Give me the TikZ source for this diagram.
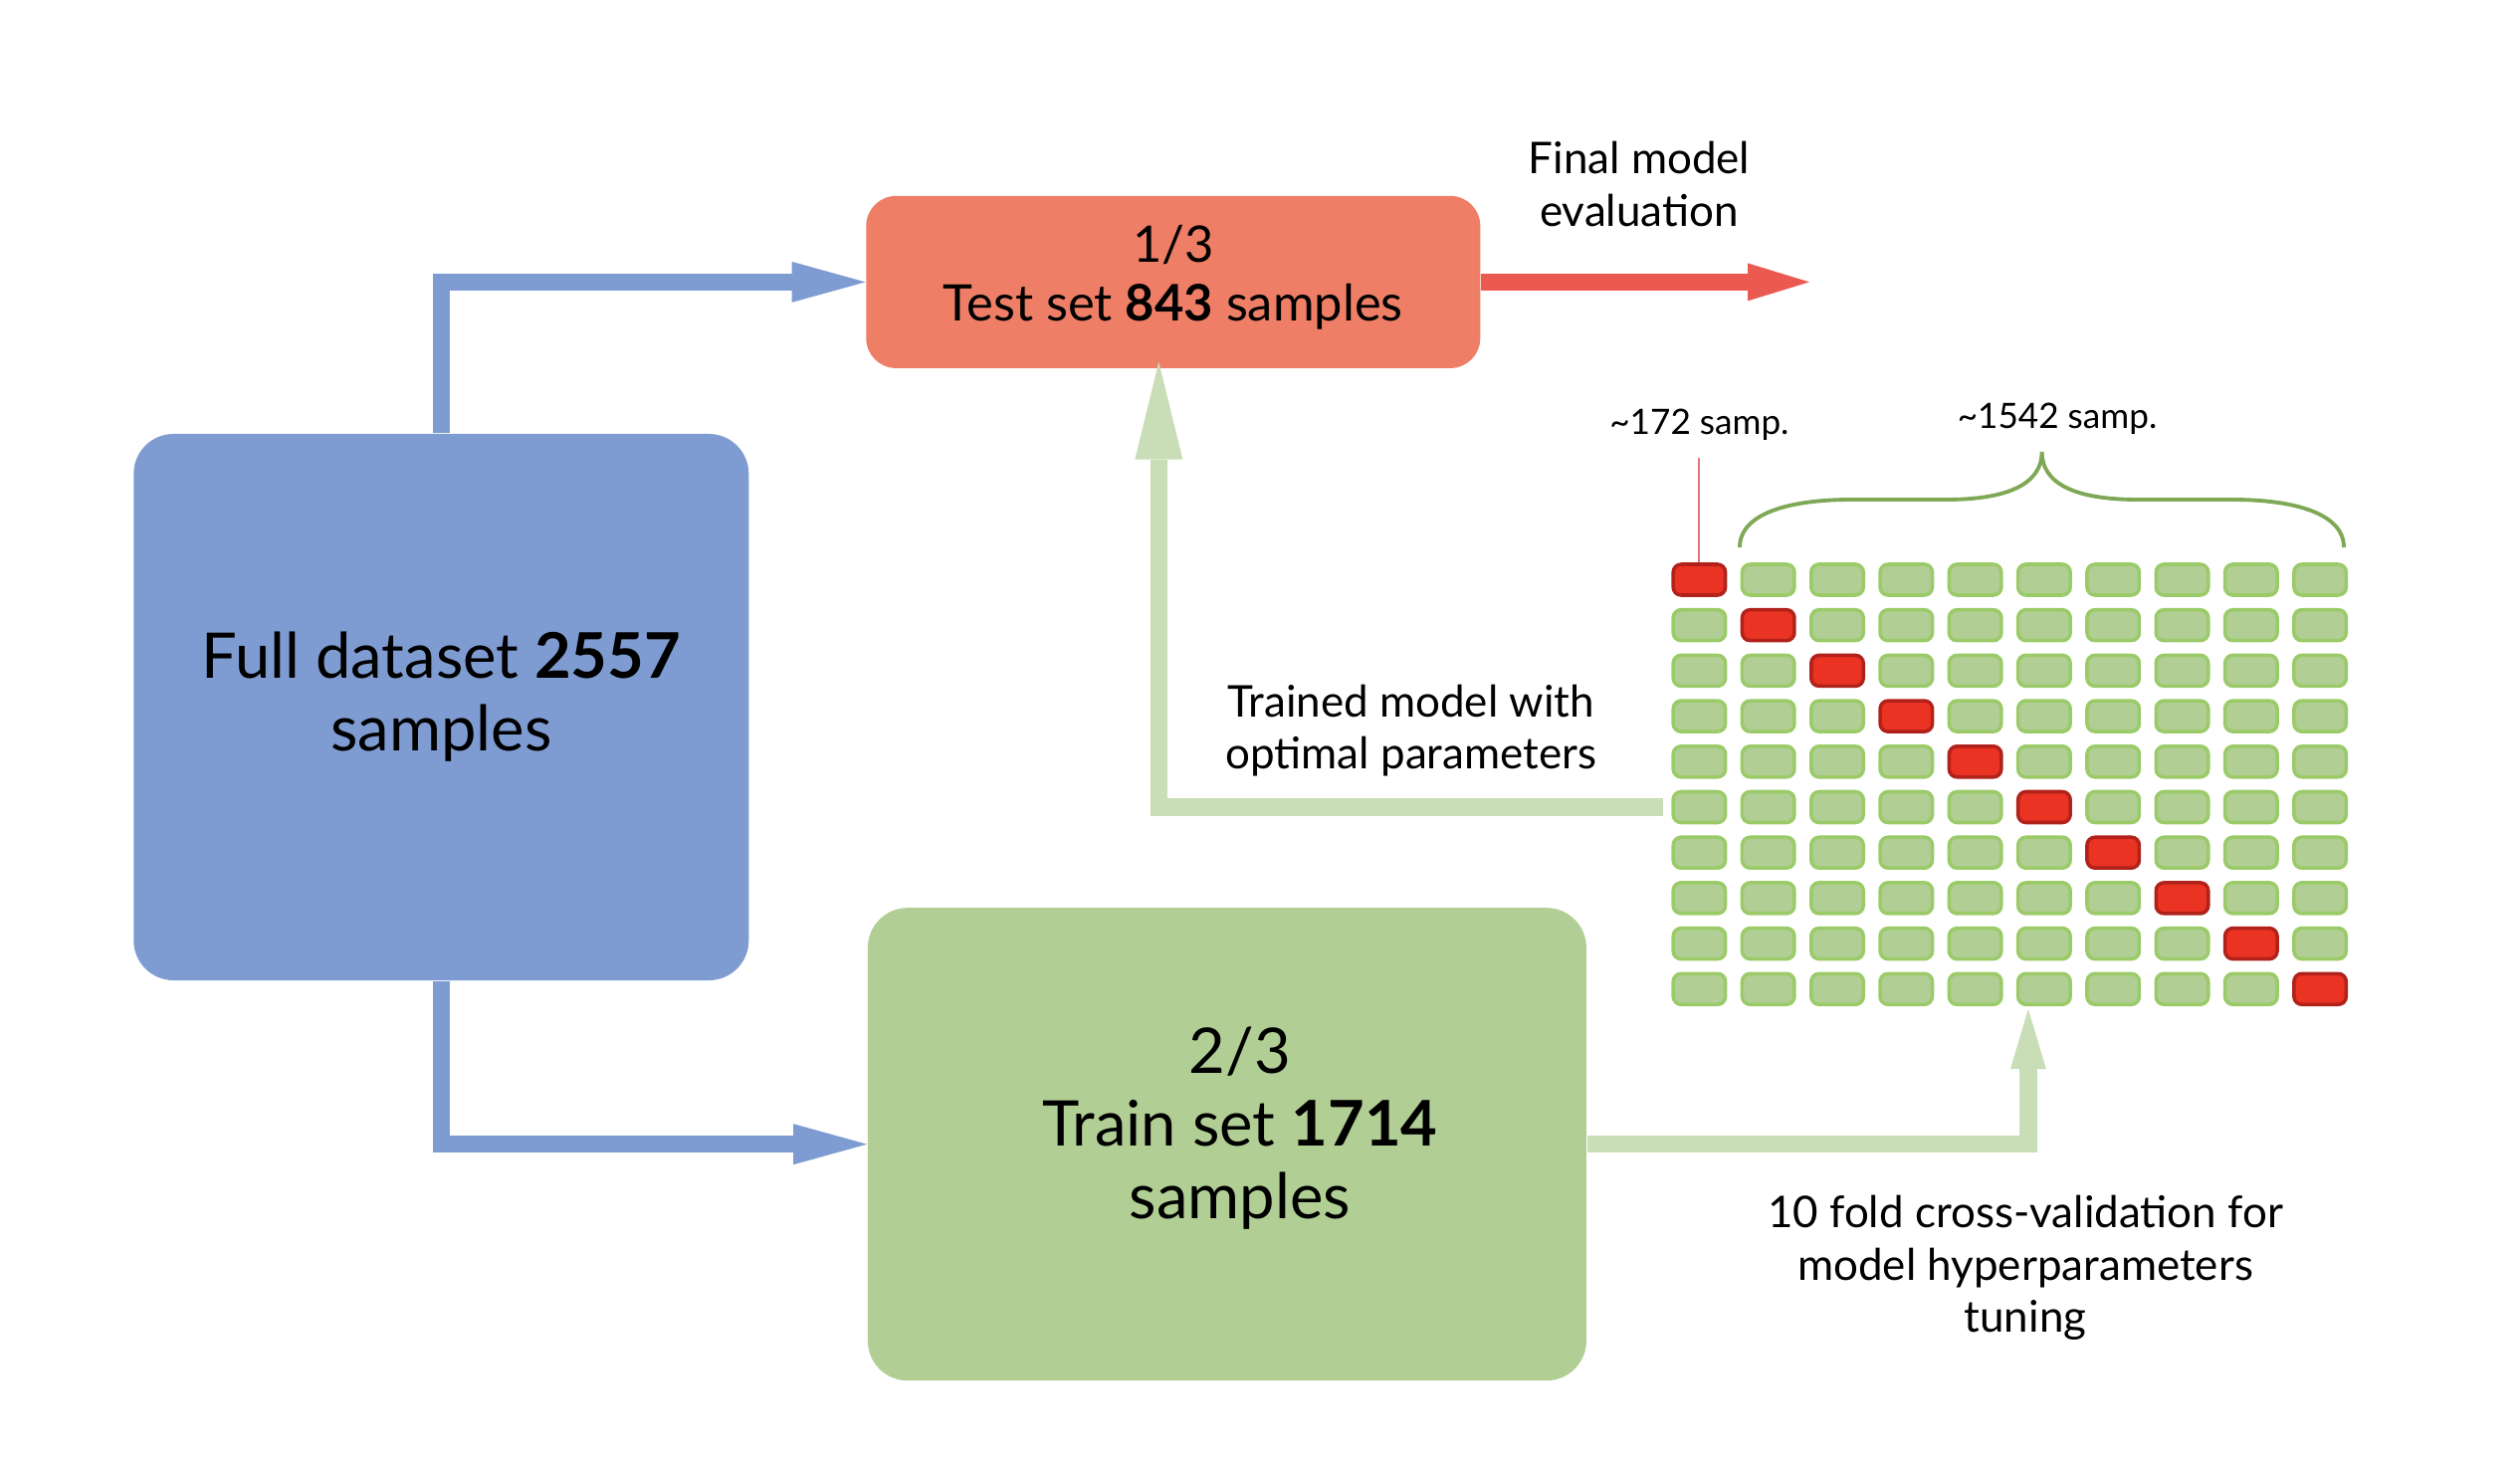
\documentclass[tikz,border=0pt]{standalone}
\usepackage{fontspec}
\setmainfont{Lato}
\usetikzlibrary{arrows.meta}
\definecolor{fullblue}{HTML}{7F9CD2}
\definecolor{testred}{HTML}{EF7E66}
\definecolor{traingreen}{HTML}{B1CE94}
\definecolor{arrowred}{HTML}{EB5A50}
\definecolor{arrowgreen}{HTML}{C9DEB6}
\definecolor{cellfill}{HTML}{B1CE94}
\definecolor{cellline}{HTML}{9BCB69}
\definecolor{hotfill}{HTML}{EA3323}
\definecolor{hotline}{HTML}{B1221B}
\definecolor{bracegreen}{HTML}{7FA856}
\definecolor{pinred}{HTML}{E57373}
\tikzset{
  block/.style={fill=#1,rounded corners=4mm,inner sep=0pt},
  big/.style={align=center,font=\fontsize{18}{20.8}\selectfont},
  flow/.style n args={3}{draw=#1,line width=1.75mm,-{Triangle[length=#2,width=#3,line width=0pt]}},
  note/.style={align=center,font=\fontsize{12.5}{15}\selectfont},
  tiny/.style={font=\fontsize{10}{11}\selectfont},
  fold/.style={draw=cellline,fill=cellfill,line width=1pt,rounded corners=0.8mm,minimum width=5.25mm,minimum height=3.1mm,inner sep=0pt},
  hot/.style={fold,draw=hotline,fill=hotfill},
  brace/.style={draw=bracegreen,line width=1.1pt},
  pin/.style={draw=pinred,line width=0.6pt}
}
\begin{document}
\begin{tikzpicture}
  \useasboundingbox (0,0) rectangle (25.32,-14.70);

  \node[block=fullblue,minimum width=6.18cm,minimum height=5.49cm] (full) at (4.433,-7.105) {};
  \node[block=testred,rounded corners=3mm,minimum width=6.17cm,minimum height=1.73cm] (test) at (11.788,-2.834) {};
  \node[block=traingreen,minimum width=7.22cm,minimum height=4.75cm] (train) at (12.329,-11.497) {};
  \node[big] (fulltext) at ([yshift=1mm]full.center) {Full dataset \textbf{2557}\\samples};
  \node[align=center,font=\fontsize{14.4}{16.8}\selectfont] (testtext) at ([yshift=0.5mm]test.center) {1/3\\Test set \textbf{843} samples};
  \node[big] (traintext) at ([xshift=1.3mm,yshift=1.6mm]train.center) {2/3\\Train set \textbf{1714}\\samples};

  % 10 x 10 folds, held-out fold on the diagonal
  \foreach \r in {0,...,9} {
    \foreach \c in {0,...,9} {
      \ifnum\r=\c \def\kind{hot}\else\def\kind{fold}\fi
      \node[\kind] (c-\c-\r) at ({17.074+0.693*\c},{-5.825-0.457*\r}) {};
    }
  }

  \node[tiny] (onefold) at (17.074,-4.263) {\textasciitilde172 samp.};
  \node[tiny] (ninefold) at (20.67,-4.21) {\textasciitilde1542 samp.};
  \draw[pin,shorten <=0.6mm] (onefold) -- (c-0-0);
  \draw[brace] (17.48,-5.50) .. controls (17.48,-5.15) and (18.0,-5.02) .. (18.6,-5.02) -- (19.55,-5.02)
    .. controls (20.2,-5.02) and (20.516,-4.85) .. (20.516,-4.54)
    .. controls (20.516,-4.85) and (20.83,-5.02) .. (21.48,-5.02) -- (22.43,-5.02)
    .. controls (23.03,-5.02) and (23.55,-5.15) .. (23.55,-5.50);

  \coordinate (evalend) at (18.18,-2.834);
  \node[note] (evaltext) at (16.47,-1.849) {Final model\\evaluation};
  \node[note] (besttext) at (14.178,-7.34) {Trained model with\\optimal parameters};
  \node[note] (cvtext) at (20.35,-12.74) {10 fold cross-validation for\\model hyperparameters\\tuning};

  \draw[flow={fullblue}{7.4mm}{4.1mm}] (full.north) |- (test.west);
  \draw[flow={fullblue}{7.4mm}{4.1mm}] (full.south) |- (train.west);
  \draw[flow={arrowred}{6.2mm}{3.8mm}] (test.east) -- (evalend);
  \draw[flow={arrowgreen}{9.8mm}{4.8mm}] ([xshift=-0.8mm]c-0-5.west) -| ([xshift=-1.45mm,yshift=0.7mm]test.south);
  \draw[flow={arrowgreen}{6mm}{3.6mm}] (train.east) -| ([xshift=-1.6mm,yshift=-0.3mm]c-5-9.south);
\end{tikzpicture}
\end{document}
